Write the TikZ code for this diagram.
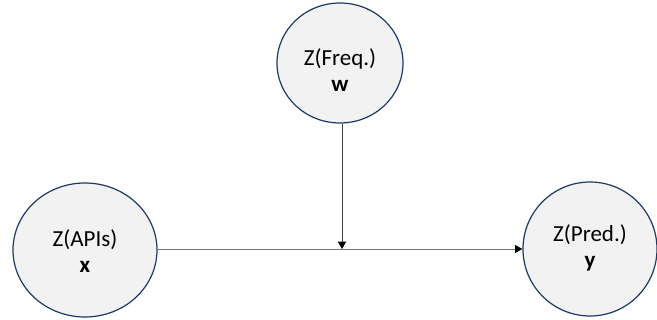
\documentclass[tikz,border=0pt]{standalone}
\usepackage{fontspec}
\setmainfont{Carlito}
\usetikzlibrary{shapes.geometric,arrows.meta}
\definecolor{blobfill}{HTML}{F2F2F2}
\definecolor{blobline}{HTML}{203864}
\begin{document}
\begin{tikzpicture}[x=0.75pt,y=-0.75pt,
  blob/.style={ellipse,draw=blobline,fill=blobfill,line width=0.9pt,inner sep=0pt},
  txt/.style={align=center,font=\fontsize{17.25}{19.5}\selectfont,inner sep=0pt},
  conn/.style={line width=0.7pt,-{Triangle[length=5.5pt,width=6pt,color=black]}}]
\useasboundingbox (0,0) rectangle (657,320);
\node[blob,minimum width=144*0.75pt,minimum height=134*0.75pt] (x) at (85,250) {};
\node[blob,minimum width=134*0.75pt,minimum height=134*0.75pt] (y) at (590,249) {};
\node[blob,minimum width=126*0.75pt,minimum height=120*0.75pt] (w) at (340,63) {};
\node[txt] (xt) at (85,251) {Z(APIs)\\\textbf{x}};
\node[txt] (yt) at (590,248) {Z(Pred.)\\\textbf{y}};
\node[txt] (wt) at (340,70) {Z(Freq.)\\\textbf{w}};
\coordinate (m) at (342,249);
\draw[conn,draw=black!55] (x.east |- m) -- (y.west |- m);
\draw[conn,draw=black!75] (w.south -| m) -- (m);
\end{tikzpicture}
\end{document}
